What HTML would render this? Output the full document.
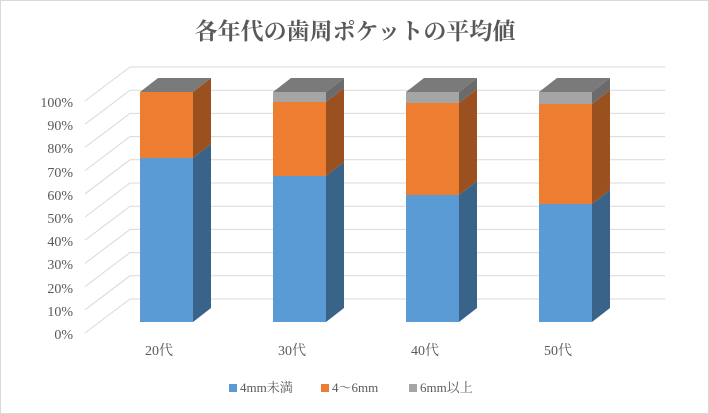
<!DOCTYPE html>
<html><head><meta charset="utf-8"><style>
body{margin:0;background:#fff}
svg{display:block}
text{font-family:"Liberation Serif","Noto Serif CJK JP",serif;fill:#595959}
</style></head><body>
<svg width="709" height="414" viewBox="0 0 709 414" xmlns="http://www.w3.org/2000/svg">
<rect x="0.5" y="0.5" width="708" height="413" fill="#fff" stroke="#d9d9d9"/>
<text x="355" y="39" text-anchor="middle" font-size="23" font-weight="bold" style="fill:#595959">各年代の歯周ポケットの平均値</text>
<g stroke="#d9d9d9" stroke-width="1" fill="none">
<polyline points="85,333 130,299 665,299"/>
<polyline points="85,309.8 130,275.8 665,275.8"/>
<polyline points="85,286.6 130,252.6 665,252.6"/>
<polyline points="85,263.4 130,229.4 665,229.4"/>
<polyline points="85,240.2 130,206.2 665,206.2"/>
<polyline points="85,217 130,183 665,183"/>
<polyline points="85,193.8 130,159.8 665,159.8"/>
<polyline points="85,170.6 130,136.6 665,136.6"/>
<polyline points="85,147.4 130,113.4 665,113.4"/>
<polyline points="85,124.2 130,90.2 665,90.2"/>
<polyline points="85,101 130,67 665,67"/>
</g>
<g font-size="14" text-anchor="end">
<text x="73" y="339">0%</text><text x="73" y="316">10%</text><text x="73" y="293">20%</text>
<text x="73" y="269">30%</text><text x="73" y="246">40%</text><text x="73" y="223">50%</text>
<text x="73" y="200">60%</text><text x="73" y="177">70%</text><text x="73" y="153">80%</text>
<text x="73" y="130">90%</text><text x="73" y="107">100%</text>
</g>
<g>
<polygon points="193,322 211,308 211,144 193,158" fill="#3a6389"/>
<rect x="140" y="158" width="53" height="164" fill="#5b9bd5"/>
<polygon points="193,158 211,144 211,78 193,92" fill="#9b501f"/>
<rect x="140" y="92" width="53" height="66" fill="#ed7d31"/>
<polygon points="140,92 158,78 211,78 193,92" fill="#7a7a7a"/>
</g>
<g>
<polygon points="326,322 344,308 344,162 326,176" fill="#3a6389"/>
<rect x="273" y="176" width="53" height="146" fill="#5b9bd5"/>
<polygon points="326,176 344,162 344,88 326,102" fill="#9b501f"/>
<rect x="273" y="102" width="53" height="74" fill="#ed7d31"/>
<polygon points="326,102 344,88 344,78 326,92" fill="#6b6b6b"/>
<rect x="273" y="92" width="53" height="10" fill="#a5a5a5"/>
<polygon points="273,92 291,78 344,78 326,92" fill="#7a7a7a"/>
</g>
<g>
<polygon points="459,322 477,308 477,181 459,195" fill="#3a6389"/>
<rect x="406" y="195" width="53" height="127" fill="#5b9bd5"/>
<polygon points="459,195 477,181 477,89 459,103" fill="#9b501f"/>
<rect x="406" y="103" width="53" height="92" fill="#ed7d31"/>
<polygon points="459,103 477,89 477,78 459,92" fill="#6b6b6b"/>
<rect x="406" y="92" width="53" height="11" fill="#a5a5a5"/>
<polygon points="406,92 424,78 477,78 459,92" fill="#7a7a7a"/>
</g>
<g>
<polygon points="592,322 610,308 610,190 592,204" fill="#3a6389"/>
<rect x="539" y="204" width="53" height="118" fill="#5b9bd5"/>
<polygon points="592,204 610,190 610,90 592,104" fill="#9b501f"/>
<rect x="539" y="104" width="53" height="100" fill="#ed7d31"/>
<polygon points="592,104 610,90 610,78 592,92" fill="#6b6b6b"/>
<rect x="539" y="92" width="53" height="12" fill="#a5a5a5"/>
<polygon points="539,92 557,78 610,78 592,92" fill="#7a7a7a"/>
</g>
<g font-size="14" text-anchor="middle">
<text x="159" y="355">20代</text><text x="292" y="355">30代</text>
<text x="425" y="355">40代</text><text x="558" y="355">50代</text>
</g>
<g font-size="13">
<rect x="229" y="384" width="8" height="8" fill="#5b9bd5"/><text x="240" y="392">4mm未満</text>
<rect x="321" y="384" width="8" height="8" fill="#ed7d31"/><text x="332" y="392">4～6mm</text>
<rect x="409" y="384" width="8" height="8" fill="#a5a5a5"/><text x="420" y="392">6mm以上</text>
</g>
</svg>
</body></html>
